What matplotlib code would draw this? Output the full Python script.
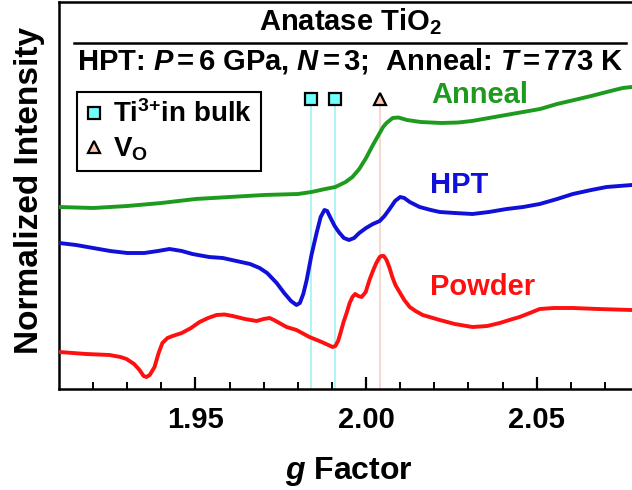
import matplotlib
matplotlib.use("Agg")
import matplotlib.pyplot as plt
from matplotlib.lines import Line2D

plt.rcParams['font.family'] = ['Liberation Sans', 'DejaVu Sans']
plt.rcParams['font.weight'] = 'bold'
plt.rcParams['mathtext.fontset'] = 'custom'
plt.rcParams['mathtext.rm'] = 'Liberation Sans:bold'
plt.rcParams['mathtext.bf'] = 'Liberation Sans:bold'
plt.rcParams['mathtext.it'] = 'Liberation Sans:bold:italic'

# EPR spectra (g factor vs. offset normalized intensity)
anneal_g = [1.9101, 1.9200, 1.9300, 1.9400, 1.9500, 1.9600, 1.9700, 1.9800, 1.9840,
            1.9880, 1.9910, 1.9940, 1.9960, 1.9980, 2.0000, 2.0020, 2.0040, 2.0050,
            2.0060, 2.0078, 2.0095, 2.0120, 2.0160, 2.0220, 2.0270, 2.0310, 2.0360,
            2.0410, 2.0460, 2.0510, 2.0560, 2.0610, 2.0660, 2.0705, 2.0752, 2.0779]
anneal_i = [1.82, 1.81, 1.83, 1.86, 1.90, 1.92, 1.94, 1.95, 1.97,
            2.00, 2.02, 2.07, 2.12, 2.20, 2.31, 2.44, 2.56, 2.62,
            2.66, 2.71, 2.715, 2.69, 2.67, 2.66, 2.665, 2.68, 2.71,
            2.74, 2.77, 2.80, 2.85, 2.89, 2.93, 2.97, 3.01, 3.02]

hpt_g = [1.9101, 1.9150, 1.9200, 1.9250, 1.9300, 1.9350, 1.9390, 1.9424, 1.9460,
         1.9491, 1.9540, 1.9580, 1.9620, 1.9660, 1.9688, 1.9710, 1.9738, 1.9760,
         1.9780, 1.9796, 1.9806, 1.9816, 1.9826, 1.9840, 1.9855, 1.9867, 1.9878,
         1.9886, 1.9896, 1.9908, 1.9920, 1.9935, 1.9950, 1.9965, 1.9980, 2.0000,
         2.0020, 2.0040, 2.0054, 2.0069, 2.0085, 2.0100, 2.0112, 2.0128, 2.0157,
         2.0190, 2.0216, 2.0260, 2.0312, 2.0360, 2.0412, 2.0460, 2.0509, 2.0560,
         2.0606, 2.0660, 2.0705, 2.0779]
hpt_i = [1.46, 1.44, 1.41, 1.38, 1.36, 1.36, 1.38, 1.40, 1.38,
         1.35, 1.32, 1.31, 1.28, 1.25, 1.21, 1.16, 1.06, 0.96,
         0.88, 0.84, 0.86, 0.95, 1.09, 1.34, 1.56, 1.72, 1.79,
         1.78, 1.71, 1.63, 1.57, 1.51, 1.49, 1.51, 1.56, 1.61,
         1.65, 1.68, 1.73, 1.80, 1.88, 1.92, 1.91, 1.87, 1.82,
         1.79, 1.77, 1.76, 1.75, 1.77, 1.80, 1.82, 1.85, 1.90,
         1.95, 1.99, 2.02, 2.04]

powder_g = [1.9101, 1.9180, 1.9248, 1.9280, 1.9298, 1.9320, 1.9336, 1.9348, 1.9356,
            1.9366, 1.9380, 1.9392, 1.9403, 1.9418, 1.9433, 1.9460, 1.9487, 1.9512,
            1.9537, 1.9562, 1.9585, 1.9609, 1.9645, 1.9679, 1.9700, 1.9717, 1.9730,
            1.9746, 1.9767, 1.9796, 1.9834, 1.9870, 1.9902, 1.9910, 1.9918, 1.9926,
            1.9934, 1.9943, 1.9952, 1.9960, 1.9968, 1.9977, 1.9987, 1.9999, 2.0010,
            2.0020, 2.0030, 2.0040, 2.0045, 2.0052, 2.0060, 2.0069, 2.0077, 2.0086,
            2.0098, 2.0112, 2.0128, 2.0145, 2.0166, 2.0216, 2.0260, 2.0312, 2.0355,
            2.0392, 2.0420, 2.0450, 2.0480, 2.0509, 2.0550, 2.0606, 2.0680, 2.0779]
powder_i = [0.37, 0.35, 0.34, 0.32, 0.30, 0.25, 0.19, 0.13, 0.12,
            0.14, 0.22, 0.36, 0.46, 0.51, 0.53, 0.56, 0.61, 0.67,
            0.71, 0.74, 0.745, 0.73, 0.70, 0.68, 0.70, 0.71, 0.69,
            0.66, 0.62, 0.59, 0.52, 0.47, 0.42, 0.43, 0.48, 0.57,
            0.67, 0.76, 0.86, 0.92, 0.95, 0.93, 0.92, 0.97, 1.09,
            1.18, 1.26, 1.32, 1.33, 1.33, 1.29, 1.21, 1.12, 1.04,
            0.97, 0.89, 0.82, 0.78, 0.74, 0.69, 0.65, 0.62, 0.63,
            0.66, 0.69, 0.72, 0.76, 0.80, 0.81, 0.81, 0.80, 0.79]

# Reference g values of paramagnetic centres
ti3_g = [1.984, 1.991]
vo_g = [2.004]
marker_level = 2.90

xticks_major = [1.95, 2.00, 2.05]
xtick_labels = ['1.95', '2.00', '2.05']

green, blue, red = '#1E9B1E', '#1010D8', '#FF1010'
cyan_fill, cyan_line = '#70FFFF', '#A8F4F4'
peach_fill, peach_line = '#F7C8AE', '#F6D6C8'

fig = plt.figure(figsize=(6.32, 4.90), dpi=100)
ax = fig.add_axes([59 / 632, 101 / 490, 580 / 632, 387 / 490])
ax.set_xlim(1.91, 2.08)
ax.set_ylim(0, 3.87)

ax.vlines(ti3_g, 0, marker_level - 0.06, color=cyan_line, lw=1.3, zorder=1)
ax.vlines(vo_g, 0, marker_level - 0.06, color=peach_line, lw=1.3, zorder=1)

line_kw = dict(lw=2.8, zorder=3, solid_joinstyle='round', solid_capstyle='round')
ax.plot(anneal_g, anneal_i, color=green, **line_kw)
ax.plot(hpt_g, hpt_i, color=blue, **line_kw)
ax.plot(powder_g, powder_i, color=red, **line_kw)

ax.plot(ti3_g, [marker_level] * len(ti3_g), ls='none', marker='s', ms=8.5,
        mfc=cyan_fill, mec='black', mew=1.6, zorder=4)
ax.plot(vo_g, [marker_level] * len(vo_g), ls='none', marker='^', ms=9,
        mfc=peach_fill, mec='black', mew=1.6, zorder=4)

ax.text(2.0190, 2.94, 'Anneal', color=green, fontsize=21, fontweight='bold', va='center')
ax.text(2.0186, 2.04, 'HPT', color=blue, fontsize=21, fontweight='bold', va='center')
ax.text(2.0186, 1.02, 'Powder', color=red, fontsize=21, fontweight='bold', va='center')

handles = [Line2D([], [], ls='none', marker='s', ms=8.5, mfc=cyan_fill, mec='black', mew=1.6),
           Line2D([], [], ls='none', marker='^', ms=9, mfc=peach_fill, mec='black', mew=1.6)]
leg = ax.legend(handles, ['Ti$^{3{+}}$in bulk', 'V$_\\mathrm{O}$'], loc='upper left',
                bbox_to_anchor=(0.031, 0.767), borderaxespad=0, fancybox=False,
                edgecolor='black', framealpha=1, handlelength=0.6, handletextpad=0.4,
                borderpad=0.3, labelspacing=0.25, prop={'size': 20, 'weight': 'bold'})
leg.get_frame().set_linewidth(1.5)

ax.set_xticks(xticks_major)
ax.set_xticklabels(xtick_labels)
ax.set_xticks([1.92, 1.93, 1.94, 1.96, 1.97, 1.98, 1.99, 2.01, 2.02, 2.03, 2.04,
               2.06, 2.07], minor=True)
ax.set_yticks([])
ax.tick_params(axis='x', which='major', direction='in', length=9, width=1.6,
               labelsize=21, pad=12)
ax.tick_params(axis='x', which='minor', direction='in', length=5, width=1.4)
for lab in ax.get_xticklabels():
    lab.set_fontweight('bold')
for sp in ax.spines.values():
    sp.set_linewidth(1.8)

ax.set_xlabel('$g$ Factor', fontsize=23, fontweight='bold', labelpad=15)
fig.text(30 / 632, 1 - 190 / 490, 'Normalized Intensity', rotation=90, fontsize=24,
         fontweight='bold', ha='center', va='center')

fig.text(350 / 632, 1 - 22 / 490, 'Anatase TiO$_2$', fontsize=21, fontweight='bold',
         ha='center', va='center')
fig.add_artist(Line2D([74 / 632, 626 / 632], [1 - 43 / 490, 1 - 43 / 490],
                      color='black', lw=1.8))
fig.text(350 / 632, 1 - 61 / 490,
         'HPT: $P\\,$=$\\,$6 GPa, $N\\,$=$\\,$3;  Anneal: $T\\,$=$\\,$773 K',
         fontsize=21, fontweight='bold', ha='center', va='center')

fig.savefig('out.png', dpi=100)
